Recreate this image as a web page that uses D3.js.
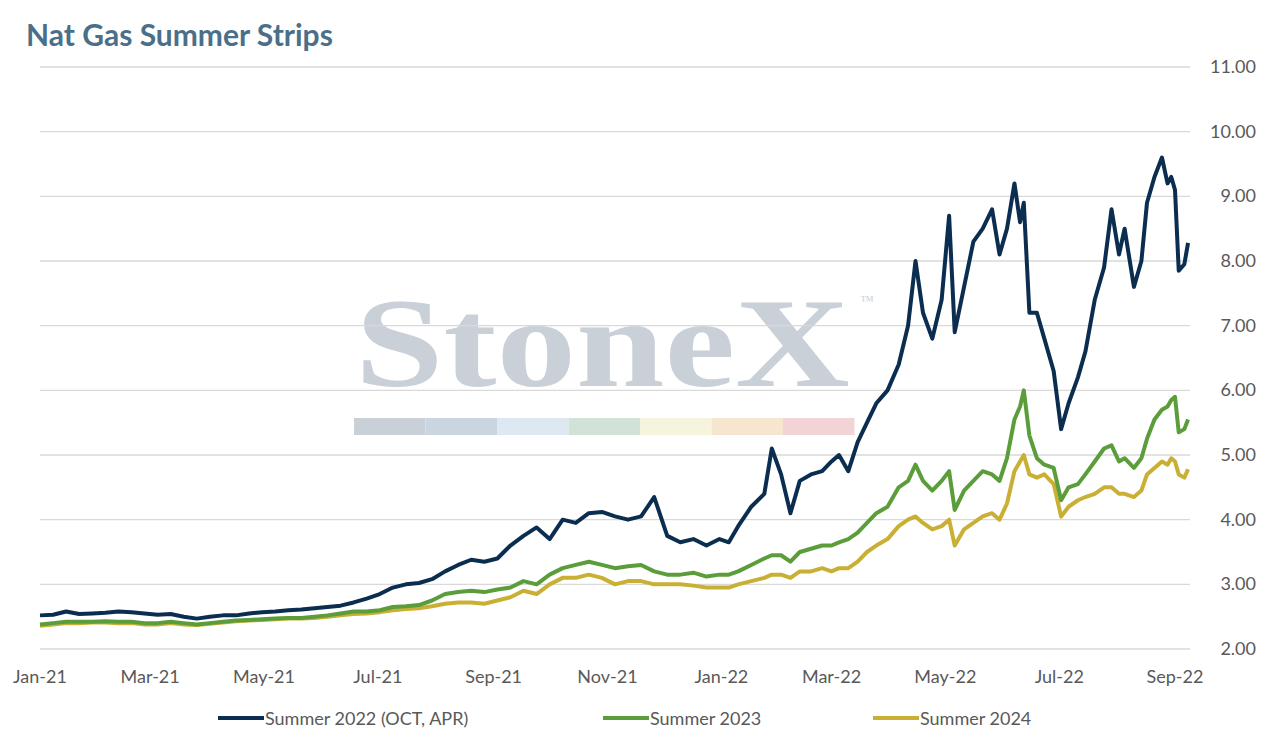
<!DOCTYPE html>
<html><head><meta charset="utf-8">
<script src="https://cdn.jsdelivr.net/npm/d3@7"></script>
<style>body{margin:0;background:#fff;font-family:Lato,"Open Sans",sans-serif}</style>
</head><body><svg id="c" width="1274" height="739"></svg>
<script>
const seriesNames=["Summer 2022 (OCT, APR)","Summer 2023","Summer 2024"];
const colors=["#0b2d50","#5b9d3b","#c9b034"];
const yTicks=[2,3,4,5,6,7,8,9,10,11];
const xTickLabels=["Jan-21","Mar-21","May-21","Jul-21","Sep-21","Nov-21","Jan-22","Mar-22","May-22","Jul-22","Sep-22"];
// 2021 weekly (Fridays from Jan 1)
const s22_2021=[2.52,2.53,2.58,2.54,2.55, 2.56,2.58,2.57,2.55, 2.53,2.54,2.50,2.47, 2.50,2.52,2.52,2.55,2.57, 2.58,2.60,2.61,2.63, 2.65,2.67,2.72,2.78, 2.85,2.95,3.00,3.02,3.08, 3.20,3.30,3.38,3.35, 3.40,3.60,3.75,3.88, 3.70,4.00,3.95,4.10,4.12, 4.05,4.00,4.05,4.35, 3.75,3.65,3.70,3.60,3.70];
const s23_2021=[2.38,2.40,2.42,2.42,2.42, 2.43,2.42,2.42,2.40, 2.40,2.42,2.40,2.38, 2.40,2.42,2.44,2.45,2.46, 2.47,2.48,2.48,2.50, 2.52,2.55,2.58,2.58, 2.60,2.65,2.66,2.68,2.75, 2.85,2.88,2.90,2.88, 2.92,2.95,3.05,3.00, 3.15,3.25,3.30,3.35,3.30, 3.25,3.28,3.30,3.20, 3.15,3.15,3.18,3.12,3.15];
const s24_2021=[2.36,2.38,2.40,2.40,2.41, 2.41,2.40,2.40,2.38, 2.38,2.40,2.38,2.37, 2.39,2.41,2.43,2.44,2.45, 2.46,2.47,2.47,2.48, 2.50,2.52,2.54,2.55, 2.57,2.60,2.62,2.63,2.66, 2.70,2.72,2.72,2.70, 2.75,2.80,2.90,2.85, 3.00,3.10,3.10,3.15,3.10, 3.00,3.05,3.05,3.00, 3.00,3.00,2.98,2.95,2.95];
const dates2022=["2022-01-05","2022-01-10","2022-01-17","2022-01-24","2022-01-28","2022-02-02","2022-02-07","2022-02-12","2022-02-18","2022-02-24","2022-03-01","2022-03-05","2022-03-10","2022-03-15","2022-03-20","2022-03-25","2022-03-31","2022-04-06","2022-04-11","2022-04-15","2022-04-19","2022-04-24","2022-04-29","2022-05-03","2022-05-06","2022-05-11","2022-05-16","2022-05-21","2022-05-26","2022-05-30","2022-06-03","2022-06-07","2022-06-10","2022-06-12","2022-06-15","2022-06-19","2022-06-23","2022-06-28","2022-07-02","2022-07-06","2022-07-11","2022-07-15","2022-07-20","2022-07-25","2022-07-29","2022-08-02","2022-08-05","2022-08-10","2022-08-14","2022-08-17","2022-08-21","2022-08-25","2022-08-28","2022-08-30","2022-09-01","2022-09-03","2022-09-06","2022-09-08"];
const s22_2022=[3.65,3.90,4.20,4.40,5.10,4.70,4.10,4.60,4.70,4.75,4.90,5.00,4.75,5.20,5.50,5.80,6.00,6.40,7.00,8.00,7.20,6.80,7.40,8.70,6.90,7.60,8.30,8.50,8.80,8.10,8.50,9.20,8.60,8.90,7.20,7.20,6.80,6.30,5.40,5.80,6.20,6.60,7.40,7.90,8.80,8.10,8.50,7.60,8.00,8.90,9.30,9.60,9.20,9.30,9.10,7.85,7.95,8.28];
const s23_2022=[3.15,3.20,3.30,3.40,3.45,3.45,3.35,3.50,3.55,3.60,3.60,3.65,3.70,3.80,3.95,4.10,4.20,4.50,4.60,4.85,4.60,4.45,4.60,4.75,4.15,4.45,4.60,4.75,4.70,4.60,4.95,5.55,5.75,6.00,5.30,4.95,4.85,4.80,4.30,4.50,4.55,4.70,4.90,5.10,5.15,4.90,4.95,4.80,4.95,5.25,5.55,5.70,5.75,5.85,5.90,5.35,5.40,5.55];
const s24_2022=[2.95,3.00,3.05,3.10,3.15,3.15,3.10,3.20,3.20,3.25,3.20,3.25,3.25,3.35,3.50,3.60,3.70,3.90,4.00,4.05,3.95,3.85,3.90,4.00,3.60,3.85,3.95,4.05,4.10,4.00,4.25,4.75,4.90,5.00,4.70,4.65,4.70,4.55,4.05,4.20,4.30,4.35,4.40,4.50,4.50,4.40,4.40,4.35,4.45,4.70,4.80,4.90,4.85,4.95,4.90,4.70,4.65,4.78];

const dates=[];
for(let i=0;i<s22_2021.length;i++){dates.push(d3.timeDay.offset(new Date(2021,0,1),7*i));}
dates2022.forEach(s=>dates.push(d3.timeParse("%Y-%m-%d")(s)));
const series=[s22_2021.concat(s22_2022),s23_2021.concat(s23_2022),s24_2021.concat(s24_2022)];

const svg=d3.select("#c");
const x=d3.scaleTime().domain([new Date(2021,0,1),new Date(2022,8,1)]).range([40,1175]);
const y=d3.scaleLinear().domain([2,11]).range([649,67]);

// watermark
const wm=svg.append("g");
wm.append("text").attr("x",355).attr("y",386).attr("font-family","Liberation Serif,DejaVu Serif,serif")
 .attr("font-size",128).attr("font-weight","bold").attr("fill","#c9d0d8")
 .attr("textLength",495).attr("lengthAdjust","spacingAndGlyphs").text("StoneX");
wm.append("text").attr("x",860).attr("y",305).attr("font-size",14).attr("fill","#c9d0d8").attr("font-family","Liberation Serif,serif").text("™");
["#c9d0d8","#c9d6e2","#dde8f2","#d1e2d7","#f6f4dc","#f6e6cf","#f2d4d6"].forEach((c,i)=>{
 wm.append("rect").attr("x",354+i*71.5).attr("y",418).attr("width",71.5).attr("height",17).attr("fill",c);});

// grid
svg.append("g").selectAll("line").data(yTicks).join("line")
 .attr("x1",40).attr("x2",1190).attr("y1",d=>y(d)).attr("y2",d=>y(d))
 .attr("stroke","#d9d9d9").attr("stroke-width",1.3);
svg.append("g").selectAll("text").data(yTicks).join("text")
 .attr("x",1256).attr("y",d=>y(d)+6).attr("text-anchor","end").attr("font-size",18).attr("fill","#595959")
 .text(d=>d3.format(".2f")(d));
const xt=d3.timeMonth.every(2).range(new Date(2021,0,1),new Date(2022,9,1));
svg.append("g").selectAll("text").data(xt).join("text")
 .attr("x",d=>x(d)).attr("y",683).attr("text-anchor","middle").attr("font-size",18).attr("fill","#595959")
 .text((d,i)=>xTickLabels[i]);

const line=d3.line().x((d,i)=>x(dates[i])).y(d=>y(d)).curve(d3.curveLinear);
[2,1,0].forEach(k=>{
 svg.append("path").datum(series[k]).attr("d",line).attr("fill","none").attr("stroke",colors[k])
  .attr("stroke-width",4).attr("stroke-linejoin","round");
});

svg.append("text").attr("x",26).attr("y",46).attr("font-size",30).attr("font-weight","bold").attr("fill","#4b6f88").text("Nat Gas Summer Strips");

const lx=[218,603,873];
seriesNames.forEach((n,i)=>{
 svg.append("line").attr("x1",lx[i]).attr("x2",lx[i]+46).attr("y1",718).attr("y2",718).attr("stroke",colors[i]).attr("stroke-width",4);
 svg.append("text").attr("x",lx[i]+47).attr("y",725).attr("font-size",18).attr("fill","#595959").text(n);
});
</script></body></html>
